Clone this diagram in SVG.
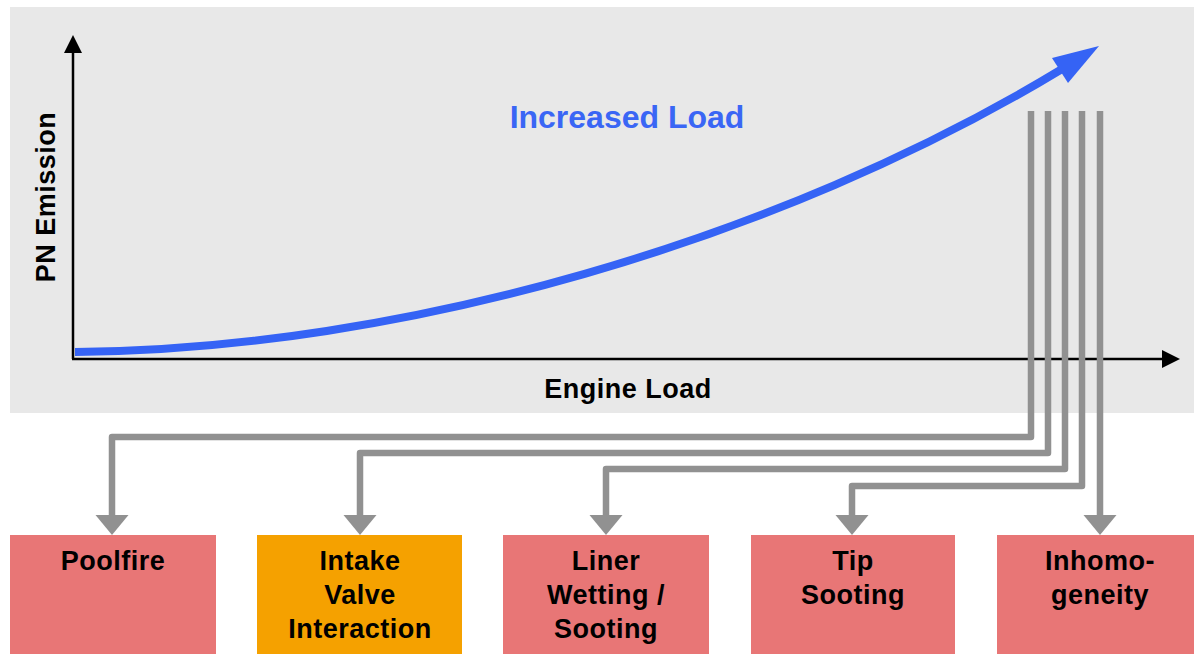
<svg xmlns="http://www.w3.org/2000/svg" width="1194" height="654" viewBox="0 0 1194 654">
<style>
.t{font-family:"Liberation Sans",Arial,sans-serif;font-weight:bold;font-size:27px;letter-spacing:0.5px;fill:#000;text-anchor:middle}
.conn{fill:none;stroke:#919191;stroke-width:6.5;stroke-linejoin:round}
.ah{fill:#919191}
.pink{fill:#e87676}
.orange{fill:#f5a100}
</style>
<rect x="10" y="7" width="1184" height="406" fill="#e8e8e8"/>
<g id="axes">
<line x1="73" y1="50" x2="73" y2="359" stroke="#000" stroke-width="2.5"/>
<polygon points="73,35 64,53 82,53" fill="#000"/>
<line x1="72" y1="359" x2="1164" y2="359" stroke="#000" stroke-width="2.5"/>
<polygon points="1180,359 1162,350 1162,368" fill="#000"/>
<text class="t" transform="translate(55,197) rotate(-90)" x="0" y="0">PN Emission</text>
<text class="t" x="628" y="398">Engine Load</text>
</g>
<g id="curve">
<path d="M75,352 C400,350 780,240 1062,69" fill="none" stroke="#3563f5" stroke-width="8"/>
<polygon points="1099,46 1052,58 1068,83" fill="#3563f5"/>
<text x="627" y="128" font-family="Liberation Sans,Arial,sans-serif" font-weight="bold" font-size="32" fill="#3a66f5" text-anchor="middle">Increased Load</text>
</g>
<g id="connectors">
<path class="conn" d="M1031,111 V437 H112 V517"/>
<polygon class="ah" points="95.5,515 128.5,515 112,535"/>
<path class="conn" d="M1048,111 V453 H360 V517"/>
<polygon class="ah" points="343.5,515 376.5,515 360,535"/>
<path class="conn" d="M1065,111 V469 H606 V517"/>
<polygon class="ah" points="589.5,515 622.5,515 606,535"/>
<path class="conn" d="M1082,111 V486 H852 V517"/>
<polygon class="ah" points="835.5,515 868.5,515 852,535"/>
<path class="conn" d="M1100,111 V517"/>
<polygon class="ah" points="1083.5,515 1116.5,515 1100,535"/>
</g>
<g id="poolfire">
<rect class="pink" x="10" y="535" width="206" height="119"/>
<text class="t" x="113" y="570">Poolfire</text>
</g>
<g id="intake">
<rect class="orange" x="257" y="535" width="205" height="119"/>
<text class="t" x="360" y="570">Intake</text>
<text class="t" x="360" y="604">Valve</text>
<text class="t" x="360" y="638">Interaction</text>
</g>
<g id="liner">
<rect class="pink" x="503" y="535" width="206" height="119"/>
<text class="t" x="606" y="570">Liner</text>
<text class="t" x="606" y="604">Wetting /</text>
<text class="t" x="606" y="638">Sooting</text>
</g>
<g id="tip">
<rect class="pink" x="751" y="535" width="204" height="119"/>
<text class="t" x="853" y="570">Tip</text>
<text class="t" x="853" y="604">Sooting</text>
</g>
<g id="inhomogeneity">
<rect class="pink" x="997" y="535" width="206" height="119"/>
<text class="t" x="1100" y="570">Inhomo-</text>
<text class="t" x="1100" y="604">geneity</text>
</g>
</svg>
